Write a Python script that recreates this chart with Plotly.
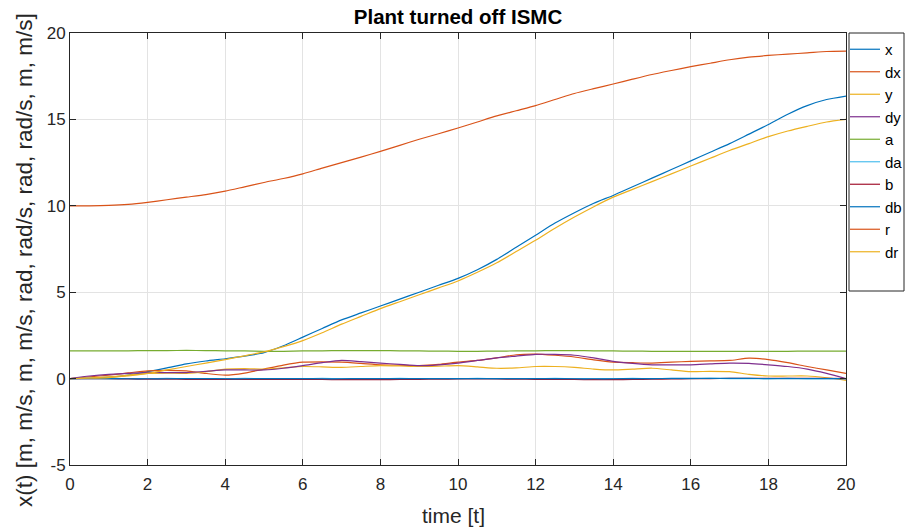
import plotly.graph_objects as go

t = [0, 0.5, 1, 1.5, 2, 2.5, 3, 3.5, 4, 4.5, 5, 5.5, 6, 6.5, 7, 7.5, 8, 8.5, 9, 9.5, 10,
     10.5, 11, 11.5, 12, 12.5, 13, 13.5, 14, 14.5, 15, 15.5, 16, 16.5, 17, 17.5, 18, 18.5, 19, 19.5, 20]

x = [0, 0.02, 0.08, 0.2, 0.4, 0.62, 0.85, 1.02, 1.15, 1.3, 1.5, 1.9, 2.4, 2.9, 3.4, 3.8, 4.2, 4.6, 5.0, 5.4, 5.8,
     6.3, 6.9, 7.6, 8.3, 9.0, 9.6, 10.15, 10.6, 11.1, 11.6, 12.1, 12.6, 13.1, 13.6, 14.15, 14.7, 15.3, 15.8, 16.15, 16.35]
dx = [0, 0.1, 0.2, 0.33, 0.45, 0.48, 0.45, 0.3, 0.2, 0.32, 0.55, 0.78, 0.95, 0.97, 0.95, 0.88, 0.8, 0.78, 0.75, 0.82, 0.95,
      1.05, 1.2, 1.38, 1.42, 1.35, 1.25, 1.08, 0.95, 0.92, 0.9, 0.95, 1.0, 1.02, 1.05, 1.18, 1.1, 0.92, 0.7, 0.5, 0.3]
y = [0, 0.05, 0.1, 0.2, 0.3, 0.32, 0.3, 0.4, 0.55, 0.58, 0.55, 0.62, 0.7, 0.68, 0.65, 0.7, 0.75, 0.73, 0.7, 0.72, 0.75,
     0.68, 0.6, 0.62, 0.7, 0.7, 0.65, 0.55, 0.5, 0.55, 0.6, 0.5, 0.4, 0.42, 0.4, 0.25, 0.15, 0.15, 0.15, 0.05, -0.1]
dy = [0, 0.15, 0.25, 0.3, 0.35, 0.35, 0.35, 0.42, 0.5, 0.5, 0.5, 0.6, 0.75, 0.92, 1.05, 0.98, 0.9, 0.82, 0.75, 0.8, 0.9,
      1.05, 1.2, 1.3, 1.4, 1.4, 1.35, 1.2, 1.0, 0.88, 0.8, 0.8, 0.8, 0.85, 0.9, 0.88, 0.8, 0.7, 0.55, 0.3, 0.0]
a = [1.6, 1.6, 1.6, 1.61, 1.62, 1.62, 1.63, 1.62, 1.61, 1.6, 1.58, 1.58, 1.6, 1.61, 1.62, 1.62, 1.62, 1.61, 1.6, 1.59, 1.58,
     1.58, 1.59, 1.6, 1.61, 1.62, 1.62, 1.61, 1.6, 1.59, 1.58, 1.58, 1.58, 1.58, 1.58, 1.58, 1.58, 1.58, 1.59, 1.59, 1.59]
da = [0, 0.01, 0.0, -0.01, 0.0, 0.01, 0.0, -0.01, 0.0, 0.01, 0.0, -0.01, 0.0, 0.01, 0.0, -0.01, 0.0, 0.01, 0.0, -0.01, 0.0,
      0.01, 0.0, -0.01, 0.0, 0.01, 0.0, -0.01, 0.0, 0.01, 0.0, -0.01, 0.0, 0.01, 0.0, -0.01, 0.0, 0.01, 0.0, -0.01, 0.0]
b = [0, 0.0, -0.01, -0.02, -0.03, -0.03, -0.04, -0.05, -0.05, -0.05, -0.04, -0.04, -0.04, -0.05, -0.06, -0.06, -0.06, -0.05, -0.04, -0.03, -0.02,
     -0.02, -0.02, -0.03, -0.04, -0.05, -0.05, -0.06, -0.06, -0.05, -0.03, -0.02, -0.01, 0.0, 0.01, 0.02, 0.02, 0.02, 0.02, 0.01, 0.0]
db = [0, 0.0, 0.0, -0.01, -0.01, -0.01, 0.0, 0.0, -0.01, -0.01, 0.0, 0.0, 0.0, -0.01, -0.01, 0.0, 0.0, 0.0, 0.0, 0.0, 0.0,
      0.0, 0.0, 0.0, 0.0, 0.0, -0.01, -0.01, -0.01, 0.0, 0.0, 0.01, 0.01, 0.01, 0.01, 0.01, 0.0, 0.0, 0.0, 0.0, 0.0]
r = [10, 10.0, 10.02, 10.08, 10.2, 10.35, 10.5, 10.65, 10.85, 11.1, 11.35, 11.58, 11.85, 12.18, 12.5, 12.82, 13.15, 13.5, 13.85, 14.17, 14.5,
     14.85, 15.2, 15.5, 15.8, 16.15, 16.5, 16.78, 17.05, 17.33, 17.6, 17.83, 18.05, 18.25, 18.45, 18.6, 18.7, 18.78, 18.85, 18.93, 18.95]
dr = [0, 0.02, 0.06, 0.15, 0.3, 0.5, 0.7, 0.9, 1.1, 1.32, 1.55, 1.85, 2.2, 2.65, 3.15, 3.6, 4.05, 4.45, 4.85, 5.25, 5.65,
      6.15, 6.7, 7.35, 8.0, 8.7, 9.35, 9.95, 10.5, 10.95, 11.4, 11.85, 12.3, 12.75, 13.2, 13.6, 14.0, 14.33, 14.6, 14.85, 15.0]

names = ["x", "dx", "y", "dy", "a", "da", "b", "db", "r", "dr"]
series = [x, dx, y, dy, a, da, b, db, r, dr]
colors = ["#0072BD", "#D95319", "#EDB120", "#7E2F8E", "#77AC30",
          "#4DBEEE", "#A2142F", "#0072BD", "#D95319", "#EDB120"]

x_ticks = [0, 2, 4, 6, 8, 10, 12, 14, 16, 18, 20]
y_ticks = [-5, 0, 5, 10, 15, 20]
y_ticklabels = ["-5", "0", "5", "10", "15", "20"]

FONT = "Liberation Sans, Arial, Helvetica"

fig = go.Figure()
for n, s, c in zip(names, series, colors):
    fig.add_trace(go.Scatter(x=t, y=s, name=n, mode="lines",
                             line=dict(color=c, width=1.2, shape="spline", smoothing=0.6)))

axis_common = dict(showline=True, linecolor="#262626", linewidth=1, mirror="ticks",
                   ticks="inside", ticklen=6, tickcolor="#262626",
                   showgrid=True, gridcolor="#e3e3e3", gridwidth=1, zeroline=False,
                   tickfont=dict(family=FONT, size=17, color="#262626"))

# plot area: x 70..846, y 33..465
fig.update_layout(
    width=908, height=529,
    margin=dict(l=70, r=62, t=33, b=64, autoexpand=False),
    paper_bgcolor="white", plot_bgcolor="white",
    title=dict(text="<b>Plant turned off ISMC</b>", x=(70 + 846) / 2 / 908, xanchor="center",
               y=1 - 17 / 529, yanchor="middle",
               font=dict(family=FONT, size=20.5, color="black")),
    xaxis=dict(range=[0, 20], tickvals=x_ticks, ticklabelstandoff=4, **axis_common),
    yaxis=dict(range=[-5, 20], tickvals=y_ticks, ticktext=y_ticklabels, **axis_common),
    legend=dict(x=(845 - 70) / 776, xanchor="left", y=1, yanchor="top", bgcolor="rgba(0,0,0,0)",
                borderwidth=0,
                font=dict(family=FONT, size=15, color="black"),
                itemwidth=30, tracegroupgap=0),
    showlegend=True,
    shapes=[dict(type="rect", xref="paper", yref="paper",
                 x0=(849 - 70) / 776, x1=(904 - 70) / 776,
                 y0=(465 - 291) / 432, y1=1.0,
                 line=dict(color="#262626", width=1), fillcolor="white", layer="below")],
    annotations=[
        dict(text="time [t]", xref="paper", yref="paper",
             x=(453 - 70) / 776, y=(465 - 515) / 432, xanchor="center", yanchor="middle",
             showarrow=False, font=dict(family=FONT, size=21, color="#262626")),
        dict(text="x(t) [m, m/s, m, m/s, rad, rad/s, rad, rad/s, m, m/s]", xref="paper", yref="paper",
             x=(24 - 70) / 776, y=(465 - 260) / 432, xanchor="center", yanchor="middle", textangle=-90,
             showarrow=False, font=dict(family=FONT, size=22.5, color="#262626")),
    ],
)

fig.write_html("out.html")
